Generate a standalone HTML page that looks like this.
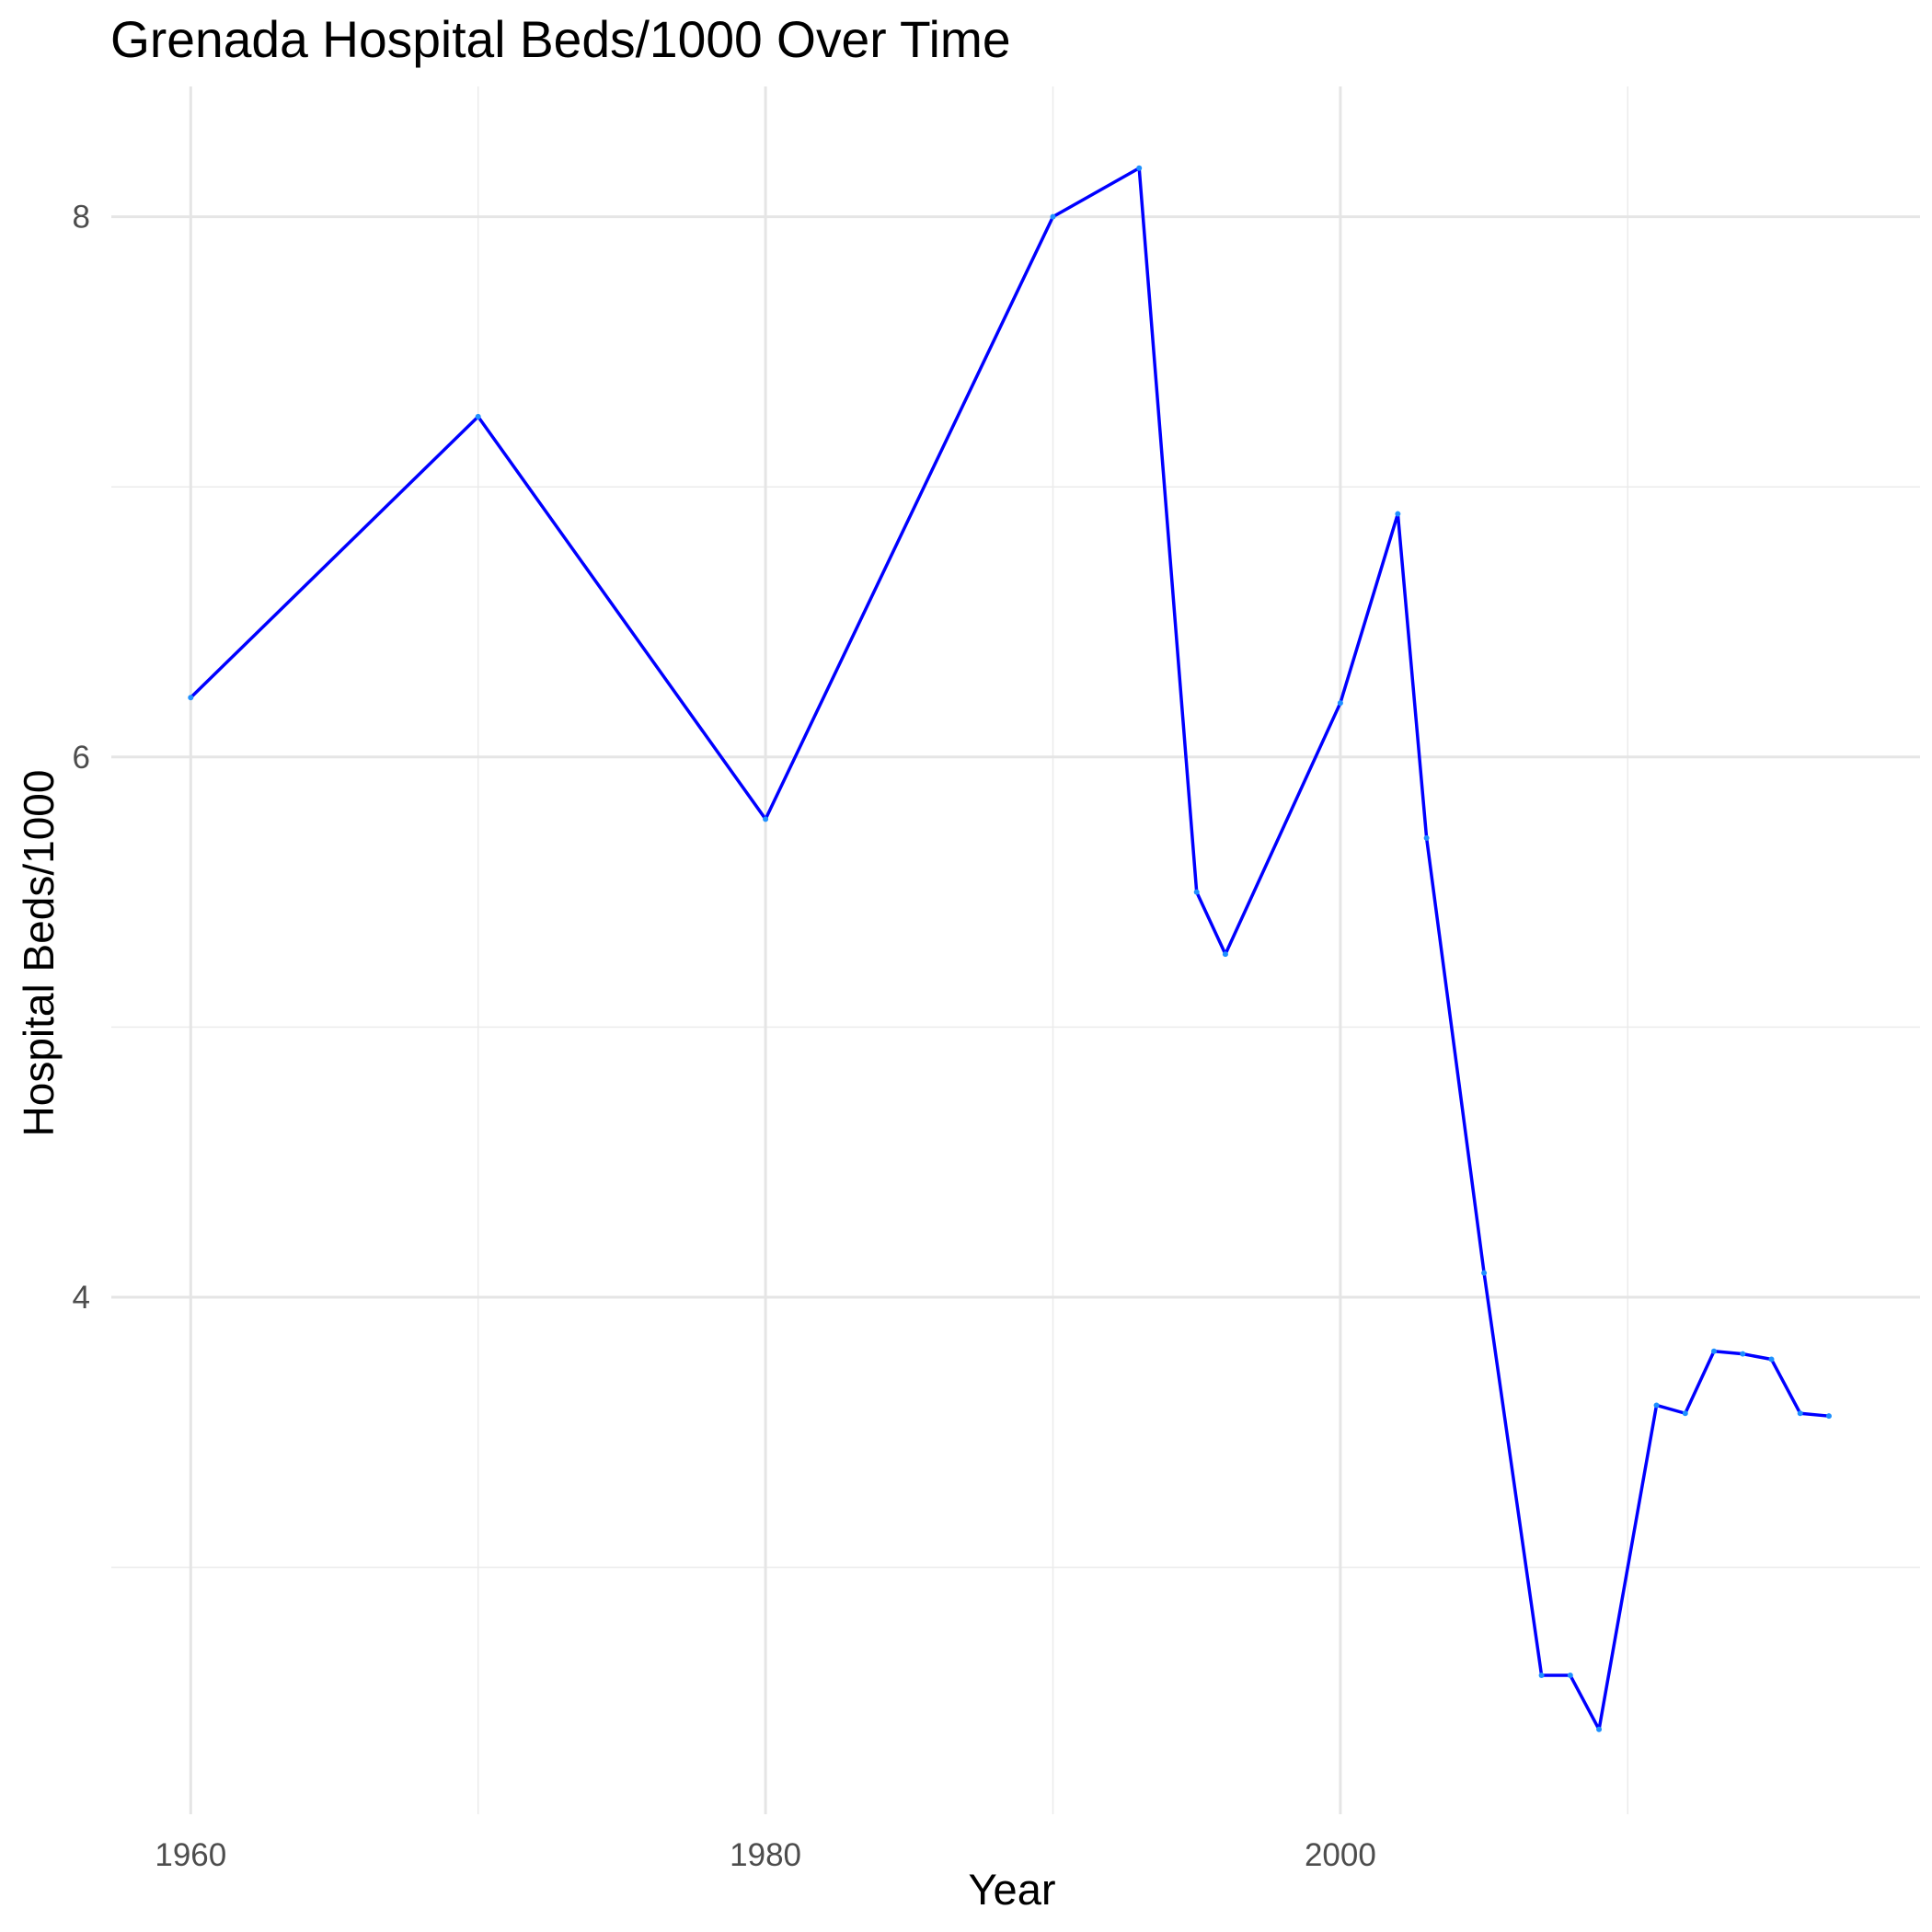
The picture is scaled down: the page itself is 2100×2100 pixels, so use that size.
<!DOCTYPE html>
<html><head><meta charset="utf-8"><style>
body{margin:0;background:#fff}
svg{display:block;font-family:"Liberation Sans",Arial,sans-serif}
</style></head><body>
<svg id="chart" width="2100" height="2100" viewBox="0 0 2100 2100">
<rect width="2100" height="2100" fill="#fff"/>
<g id="grid"></g>
<g id="axes"></g>
<g id="series"></g>
<text x="120" y="62" font-size="55.2" fill="#000">Grenada Hospital Beds/1000 Over Time</text>
<text x="1100" y="2070" font-size="47" text-anchor="middle" fill="#000">Year</text>
<text x="0" y="0" font-size="46" text-anchor="middle" fill="#000" transform="translate(58,1036) rotate(-90)">Hospital Beds/1000</text>
</svg>
<script>
const years=[1960,1970,1980,1990,1993,1995,1996,2000,2002,2003,2005,2007,2008,2009,2011,2012,2013,2014,2015,2016,2017];
const beds=[6.22,7.26,5.77,8.0,8.18,5.50,5.27,6.20,6.90,5.70,4.09,2.60,2.60,2.40,3.60,3.57,3.80,3.79,3.77,3.57,3.56];
const xTicks=[1960,1980,2000];
const xMinor=[1970,1990,2010];
const yTicks=[4,6,8];
const yMinor=[3,5,7];
const NS="http://www.w3.org/2000/svg";
const X0=121,X1=2087,Y0=94,Y1=1972;
const xs=v=>207.3+(v-1960)*31.24;
const ys=v=>235.6+(8-v)*293.6;
function mk(tag,attrs,parent){const e=document.createElementNS(NS,tag);for(const k in attrs)e.setAttribute(k,attrs[k]);parent.appendChild(e);return e;}
const grid=document.getElementById('grid'),axes=document.getElementById('axes'),series=document.getElementById('series');
yMinor.forEach(v=>{const l=mk('line',{x1:X0,x2:X1,y1:ys(v),y2:ys(v),stroke:'#ebebeb','stroke-width':1.5},grid);

});
xMinor.forEach(v=>{const l=mk('line',{x1:xs(v),x2:xs(v),y1:Y0,y2:Y1,stroke:'#ebebeb','stroke-width':1.5},grid);

});
yTicks.forEach(v=>{const l=mk('line',{x1:X0,x2:X1,y1:ys(v),y2:ys(v),stroke:'#e5e5e5','stroke-width':3},grid);


const t=mk('text',{x:98,y:ys(v)+12,'font-size':35,'text-anchor':'end',fill:'#4d4d4d'},axes);t.textContent=v;

});
xTicks.forEach(v=>{const l=mk('line',{x1:xs(v),x2:xs(v),y1:Y0,y2:Y1,stroke:'#e5e5e5','stroke-width':3},grid);


const t=mk('text',{x:xs(v),y:2028,'font-size':35,'text-anchor':'middle',fill:'#4d4d4d'},axes);t.textContent=v;

});
const pts=years.map((y,i)=>xs(y)+','+ys(beds[i])).join(' ');
const pl=mk('polyline',{points:pts,fill:'none',stroke:'#0000ff','stroke-width':3.5,'stroke-linejoin':'round'},series);


years.forEach((y,i)=>{const c=mk('circle',{cx:xs(y),cy:ys(beds[i]),r:3,fill:'#1e90ff'},series);

});
</script>
</body></html>
